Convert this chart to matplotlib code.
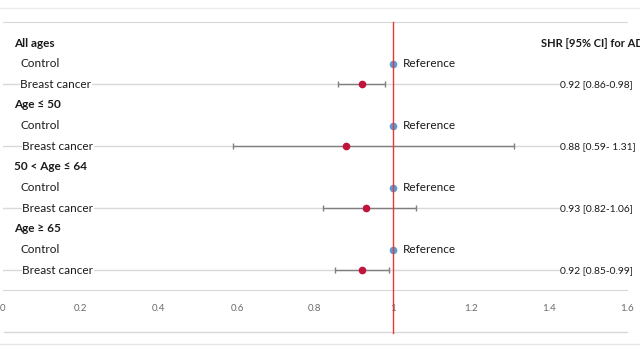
import numpy as np
import matplotlib.pyplot as plt
from matplotlib.lines import Line2D

plt.rcParams['font.family'] = ['Lato', 'DejaVu Sans']

groups = ['All ages', 'Age ≤ 50', '50 < Age ≤ 64', 'Age ≥ 65']
shr = [0.92, 0.88, 0.93, 0.92]
ci_low = [0.86, 0.59, 0.82, 0.85]
ci_high = [0.98, 1.31, 1.06, 0.99]
ci_text = ['0.92 [0.86-0.98]', '0.88 [0.59- 1.31]', '0.93 [0.82-1.06]', '0.92 [0.85-0.99]']
xticks = [0, 0.2, 0.4, 0.6, 0.8, 1, 1.2, 1.4, 1.6]
xticklabels = ['0', '0.2', '0.4', '0.6', '0.8', '1', '1.2', '1.4', '1.6']

W, H = 640, 360
fig = plt.figure(figsize=(6.4, 3.6), dpi=100)
ax = fig.add_axes([3/W, 1-290/H, 624/W, 268/H])

row_h = 20.65
top_idx = (22-43)/row_h
bot_idx = (290-43)/row_h
ax.set_xlim(0, 1.6)
ax.set_ylim(bot_idx, top_idx)

grid_c = '#d9d9d9'
red = '#c0143c'
blue = '#5b9bd5'
txt_c = '#1a1a1a'
ylab = ax.get_yaxis_transform()

for i, g in enumerate(groups):
    yh = 3*i
    yc = 3*i + 1
    yb = 3*i + 2
    ax.axhline(yb, color=grid_c, lw=1, zorder=0)
    ax.text(0.018, yh, g, transform=ylab, fontsize=8.5, fontweight='bold', va='center', color=txt_c)
    ax.text(0.028, yc, 'Control', transform=ylab, fontsize=8.5, va='center', color=txt_c)
    ax.text(0.028 if i == 0 else 0.031, yb, 'Breast cancer', transform=ylab, fontsize=8.5,
            va='center', color=txt_c,
            bbox=dict(facecolor='white', edgecolor='none', pad=0.5))
    # reference
    ax.plot(1, yc, 'o', color=blue, ms=4.5, zorder=4)
    ax.text(1.025, yc, 'Reference', fontsize=8.5, va='center', color=txt_c)
    # estimate
    ax.errorbar(shr[i], yb, xerr=[[shr[i]-ci_low[i]], [ci_high[i]-shr[i]]],
                fmt='o', color=red, ms=4.5, ecolor='#7f7f7f', elinewidth=1,
                capsize=2.5, capthick=1, zorder=4)
    ax.text(0.893, yb, ci_text[i], transform=ylab, fontsize=7.4, va='center', color=txt_c,
            bbox=dict(facecolor='white', edgecolor='none', pad=0.5))

ax.text(0.862, 0, 'SHR [95% CI] for AD', transform=ylab, fontsize=8,
        fontweight='bold', va='center', clip_on=False, color=txt_c)

ax.set_xticks(xticks)
ax.set_xticklabels(xticklabels, color='#6b6b6b', fontsize=7)
ax.tick_params(axis='x', length=0, pad=10)
ax.set_yticks([])
for s in ['left', 'right']:
    ax.spines[s].set_visible(False)
ax.spines['bottom'].set_color(grid_c)
ax.spines['top'].set_color(grid_c)

# red reference line crossing the axis
fig.add_artist(Line2D([393/W, 393/W], [1-22/H, 1-333/H], color='#e53935', lw=1, zorder=3))

# frame lines of the table
fig.add_artist(Line2D([0, 1], [1-8/H, 1-8/H], color='#ececec', lw=1))
fig.add_artist(Line2D([4/W, 627/W], [1-332/H, 1-332/H], color=grid_c, lw=1))
fig.add_artist(Line2D([0, 1], [1-344/H, 1-344/H], color='#e6e6e6', lw=1))

fig.savefig('out.png', dpi=100)
